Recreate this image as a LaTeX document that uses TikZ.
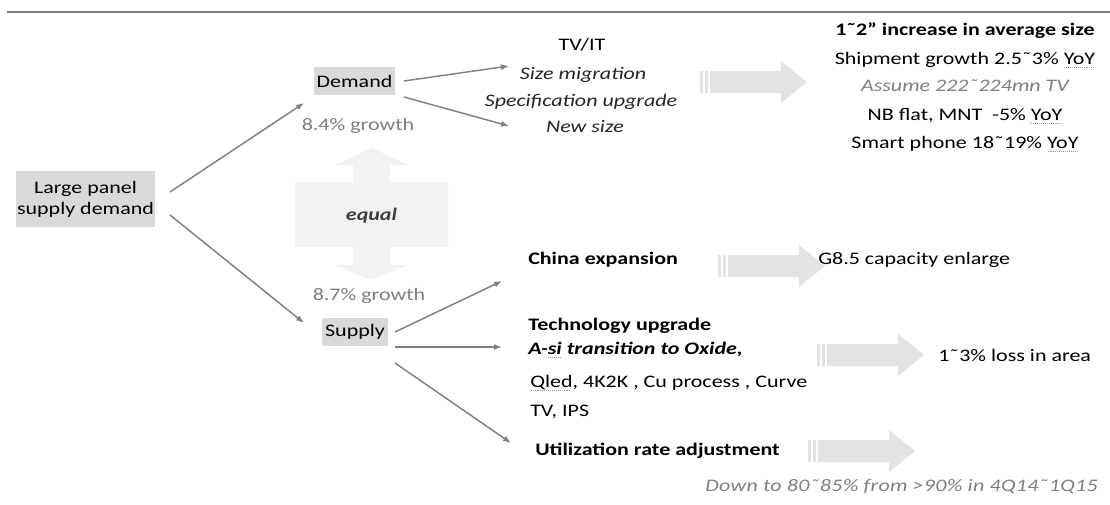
\documentclass[tikz,border=0pt]{standalone}
\usepackage{fontspec}
\setmainfont{Carlito}[FakeStretch=1.25]
\usetikzlibrary{arrows.meta,calc}
\definecolor{boxgray}{HTML}{D9D9D9}
\definecolor{linegray}{HTML}{808080}
\definecolor{txtgray}{HTML}{7F7F7F}
\definecolor{eqfill}{HTML}{F2F2F2}
\definecolor{stripefill}{HTML}{E3E3E3}
\definecolor{darktxt}{HTML}{404040}
\newsavebox\spbox
\newcommand\spellul[1]{\sbox\spbox{#1}\rlap{\textcolor{black!40}{\raisebox{-2.6pt}{\hbox to \wd\spbox{\leaders\hbox{\kern0.35pt\rule{0.75pt}{0.75pt}\kern0.35pt}\hfil}}}}\usebox\spbox}
\newcommand\fs{\fontsize{13.2pt}{16pt}\selectfont}
\begin{document}
\begin{tikzpicture}[x={(0.75pt,0)},y={(0,-0.75pt)},
  conn/.style={draw=linegray, line width=1.1pt, -{Latex[length=6pt,width=4.5pt]}},
  txt/.style={inner sep=0pt, font=\fs},
  graybox/.style={fill=boxgray, inner sep=0pt, font=\fs, align=center},
  striparrow/.pic={
    \fill[stripefill] (0,-11) rectangle (3,11);
    \fill[stripefill] (4.5,-11) rectangle (8,11);
    \fill[stripefill] (10,-11) -- (81,-11) -- (81,-21) -- (107,0) -- (81,21) -- (81,11) -- (10,11) -- cycle;
  }
]
\useasboundingbox (0,0) rectangle (1110,504);
\fill[white] (0,0) rectangle (1110,504);

% top rule
\coordinate (rule0) at (7,12);
\coordinate (rule1) at (1110,12);
\draw[draw=linegray, line width=1.3pt] (rule0) -- (rule1);

% main boxes
\node[graybox, minimum width=104.25pt, minimum height=42pt] (large) at (85.5,199)
  {\fontsize{13.2pt}{20pt}\selectfont Large panel\\supply demand};
\node[graybox, minimum width=60.75pt, minimum height=21pt] (demand) at (354.5,81) {Demand};
\node[graybox, minimum width=49.5pt, minimum height=21pt] (supply) at (355,332) {Supply};

\node[txt, anchor=mid, text=txtgray] (g84) at (358,127) {8.4\% growth};
\node[txt, anchor=mid, text=txtgray] (g87) at (369,297) {8.7\% growth};

% equal double arrow
\fill[eqfill] (371.5,148) -- (408,165) -- (390,165) -- (390,182) -- (448,182) -- (448,247)
  -- (390,247) -- (390,265) -- (408,265) -- (371.5,280) -- (335,265) -- (353,265)
  -- (353,247) -- (295,247) -- (295,182) -- (353,182) -- (353,165) -- (335,165) -- cycle;
\node[txt, anchor=mid, font=\fs\bfseries\itshape, text=darktxt] (equal) at (371.5,217) {equal};

% demand drivers
\node[txt, anchor=mid] (tvit) at (582,47) {TV/IT};
\node[txt, anchor=mid, font=\fs\itshape, text=black!85] (sizemig) at (583,76) {Size migration};
\node[txt, anchor=mid, font=\fs\itshape, text=black!85] (specup) at (581,103) {Specification upgrade};
\node[txt, anchor=mid, font=\fs\itshape, text=black!85] (newsize) at (585,129) {New size};

\pic at (700,82) {striparrow};

\node[txt, anchor=mid, font=\fs\bfseries] (r1) at (965,32) {1˜2” increase in average size};
\node[txt, anchor=mid] (r2) at (965,61) {Shipment growth 2.5˜3\% \spellul{YoY}};
\node[txt, anchor=mid, font=\fs\itshape, text=txtgray] (r3) at (965,88.5) {Assume 222˜224mn TV};
\node[txt, anchor=mid] (r4) at (965,117) {NB flat, MNT \ -5\% \spellul{YoY}};
\node[txt, anchor=mid] (r5) at (965,145) {Smart phone 18˜19\% \spellul{YoY}};

% supply drivers
\node[txt, anchor=mid west, font=\fs\bfseries] (china) at (528,261) {China expansion};
\pic at (718,266) {striparrow};
\node[txt, anchor=mid west] (g85) at (818,261) {G8.5 capacity enlarge};

\node[txt, anchor=mid west, font=\fs\bfseries] (tech) at (528,327) {Technology upgrade};
\node[txt, anchor=mid west, font=\fs\bfseries\itshape] (asi) at (528,351) {A-\spellul{si} transition to Oxide,};
\node[txt, anchor=mid west] (qled) at (530,384) {\spellul{Qled}, 4K2K , Cu process , Curve};
\node[txt, anchor=mid west] (tvips) at (530,413) {TV, IPS};
\pic at (817,355) {striparrow};
\node[txt, anchor=mid west] (loss) at (938,358) {1˜3\% loss in area};

\node[txt, anchor=mid west, font=\fs\bfseries] (util) at (535,452) {Utilization rate adjustment};
\pic at (808,451) {striparrow};
\node[txt, anchor=mid west, font=\fs\itshape\addfontfeature{LetterSpace=1.5}, text=txtgray] (down) at (705,488) {Down to 80˜85\% from >90\% in 4Q14˜1Q15};

% connectors
\coordinate (ld0) at (170,192); \coordinate (ld1) at (304,103);
\coordinate (ls0) at (170,215); \coordinate (ls1) at (304,323);
\coordinate (dt0) at (404,81);  \coordinate (dt1) at (509,66);
\coordinate (db0) at (404,97);  \coordinate (db1) at (509,126);
\coordinate (sa0) at (395,332); \coordinate (sa1) at (502,281);
\coordinate (sb0) at (395,347); \coordinate (sb1) at (502,347);
\coordinate (sc0) at (395,363); \coordinate (sc1) at (511,443);
\draw[conn] (ld0) -- (ld1);
\draw[conn] (ls0) -- (ls1);
\draw[conn] (dt0) -- (dt1);
\draw[conn] (db0) -- (db1);
\draw[conn] (sa0) -- (sa1);
\draw[conn] (sb0) -- (sb1);
\draw[conn] (sc0) -- (sc1);
\end{tikzpicture}
\end{document}
